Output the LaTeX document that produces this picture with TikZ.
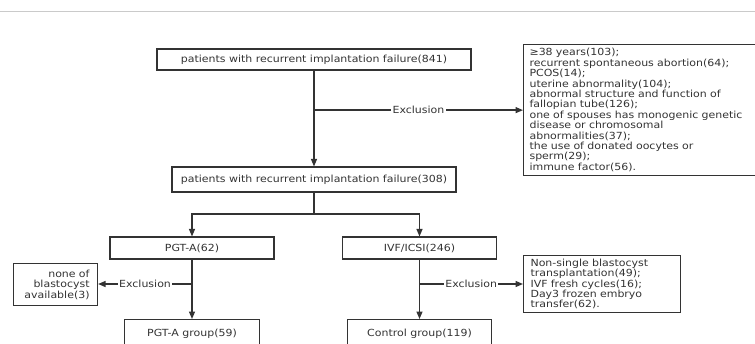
\documentclass[tikz,border=0pt]{standalone}
\usepackage{fontspec}
\setmainfont{DejaVu Sans}[FakeStretch=1.12]
\usetikzlibrary{arrows.meta}
\definecolor{ink}{HTML}{333333}
\definecolor{rule}{HTML}{CACACA}
\tikzset{
  txt/.style={text=ink, font=\fontsize{9.8}{10.4}\selectfont},
  box/.style={txt, draw=ink, line width=1.1pt, inner sep=0pt},
  conn/.style={draw=ink, line width=1.3pt},
  arr/.style={conn, -{Triangle[length=7.5pt,width=6pt]}},
  lbl/.style={txt, fill=white, inner sep=1.2pt},
}
\begin{document}
\begin{tikzpicture}[x=1pt,y=-1pt]
\clip (0,0) rectangle (755,343);
\fill[white] (0,0) rectangle (755,343);
\draw[rule, line width=1pt] (0,11) -- (755,11);
% top nodes
\node[box, minimum width=314, minimum height=21] (b1) at (314,59.5) {patients with recurrent implantation failure(841)};
\node[box, minimum width=284, minimum height=25] (b2) at (314,179.5) {patients with recurrent implantation failure(308)};
\node[box, anchor=north west, minimum width=228, minimum height=129, text width=220, align=left, inner xsep=6pt, inner ysep=4pt] (ex1) at (523,44) {≥38 years(103);\\recurrent spontaneous abortion(64);\\PCOS(14);\\uterine abnormality(104);\\abnormal structure and function of\\fallopian tube(126);\\one of spouses has monogenic genetic\\disease or chromosomal\\abnormalities(37);\\the use of donated oocytes or\\sperm(29);\\immune factor(56).};
% second level
\node[box, minimum width=164, minimum height=22] (pgta) at (192,248) {PGT-A(62)};
\node[box, minimum width=154, minimum height=22] (ivf) at (419.5,248) {IVF/ICSI(246)};
\coordinate (br) at (314,214);
% left exclusion
\node[box, anchor=north west, minimum width=84, minimum height=42, text width=68, align=right, inner xsep=8pt] (ex2) at (13,263) {none of\\blastocyst\\available(3)};
\node[box, anchor=north west, minimum width=157, minimum height=57, text width=143, align=left, inner xsep=7pt] (ex3) at (523,255) {Non-single blastocyst\\transplantation(49);\\IVF fresh cycles(16);\\Day3 frozen embryo\\transfer(62).};
% groups
\node[box, anchor=north, minimum width=135, minimum height=34] (g1) at (192,319) {};
\node[txt] (g1t) at (192,333.5) {PGT-A group(59)};
\node[box, anchor=north, minimum width=144, minimum height=34] (g2) at (419.5,319) {};
\node[txt] (g2t) at (419.5,333.5) {Control group(119)};
% connectors
\draw[arr] (b1.south) -- (b2.north);
\draw[arr] (b1.south |- ex1.west) -- node[lbl]{Exclusion} (ex1.west);
\draw[conn] (b2.south) -- (br);
\draw[arr] (br) -| (pgta.north);
\draw[arr] (br) -| (ivf.north);
\draw[arr] (pgta.south) -- (g1.north);
\draw[arr] (ivf.south) -- (g2.north);
\draw[arr] (pgta.south |- 0,284) -- node[lbl]{Exclusion} (ex2.east |- 0,284);
\draw[arr] (ivf.south |- 0,284) -- node[lbl]{Exclusion} (ex3.west |- 0,284);
\end{tikzpicture}
\end{document}
